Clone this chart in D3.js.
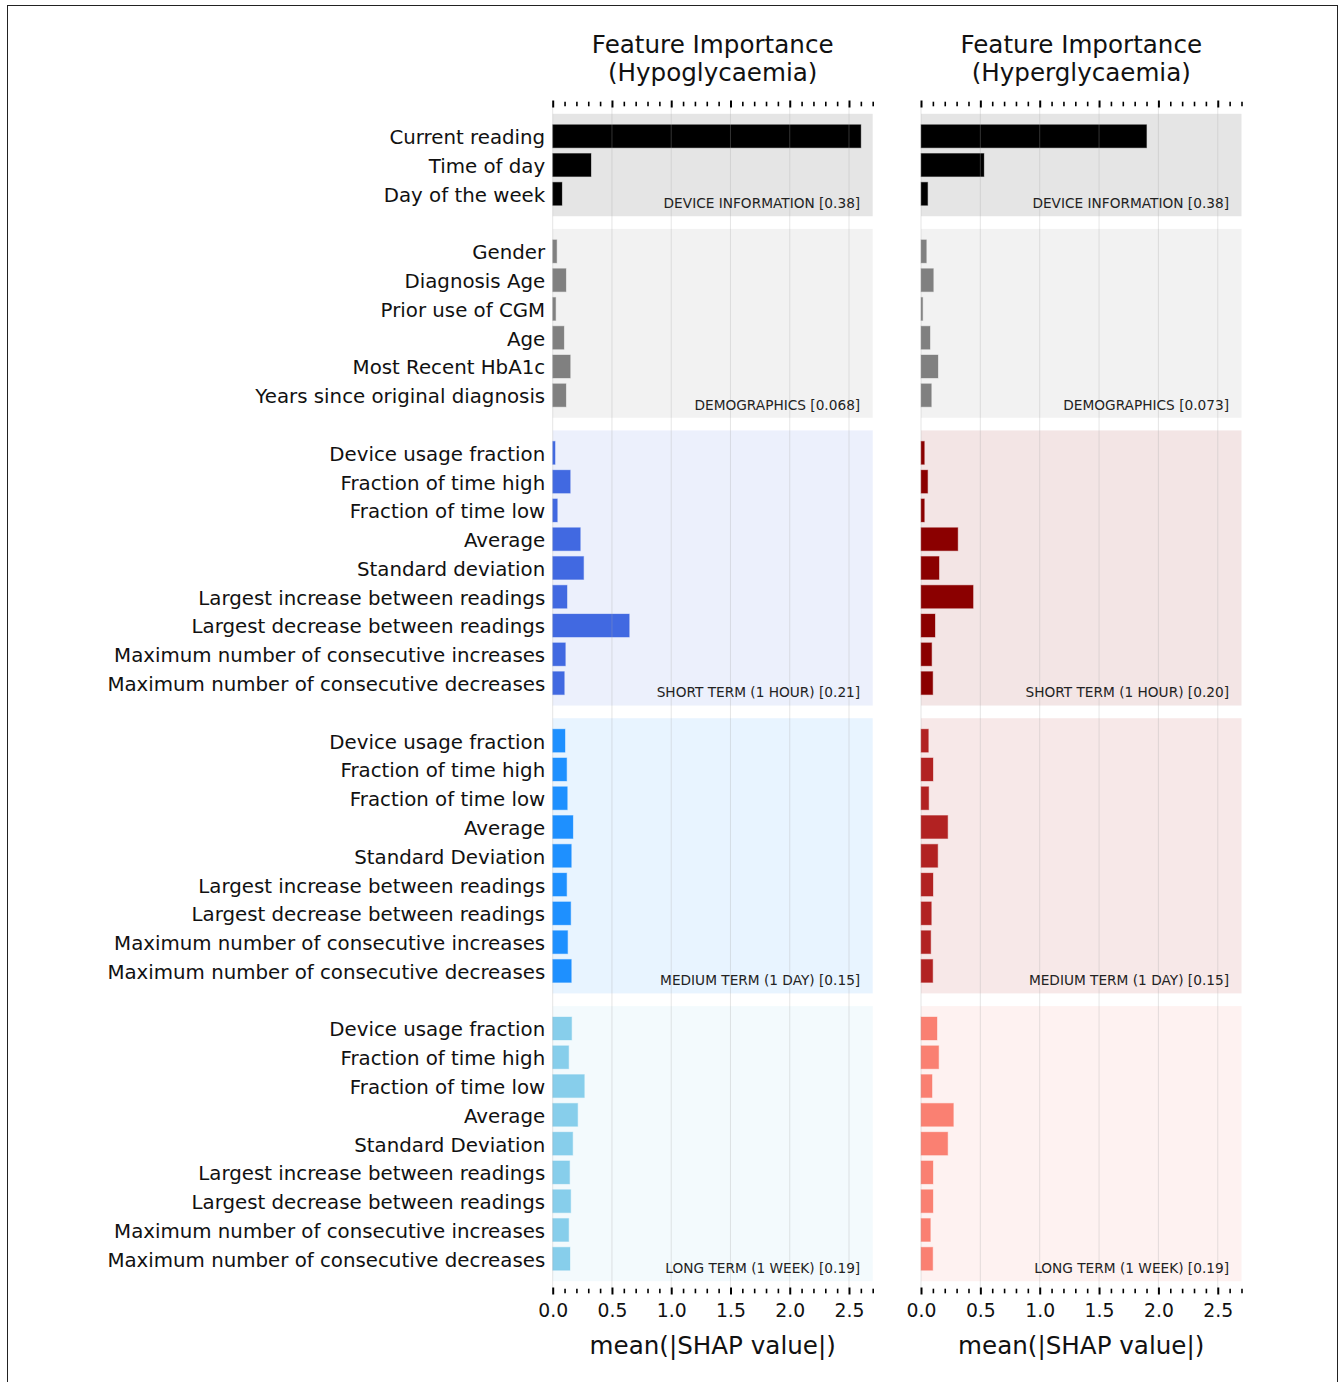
<!DOCTYPE html>
<html><head><meta charset="utf-8">
<script src="https://cdn.jsdelivr.net/npm/d3@7"></script>
<style>body{margin:0;background:#fff} svg{display:block} text{font-family:"DejaVu Sans",sans-serif}</style>
</head><body><svg id="c" width="1344" height="1382"></svg>
<script>
// ---------- data ----------
const deviceFeatures = ["Current reading","Time of day","Day of the week"];
const demoFeatures = ["Gender","Diagnosis Age","Prior use of CGM","Age","Most Recent HbA1c","Years since original diagnosis"];
const shortFeatures = ["Device usage fraction","Fraction of time high","Fraction of time low","Average","Standard deviation","Largest increase between readings","Largest decrease between readings","Maximum number of consecutive increases","Maximum number of consecutive decreases"];
const mediumFeatures = ["Device usage fraction","Fraction of time high","Fraction of time low","Average","Standard Deviation","Largest increase between readings","Largest decrease between readings","Maximum number of consecutive increases","Maximum number of consecutive decreases"];
const longFeatures = ["Device usage fraction","Fraction of time high","Fraction of time low","Average","Standard Deviation","Largest increase between readings","Largest decrease between readings","Maximum number of consecutive increases","Maximum number of consecutive decreases"];

const groupNames = ["DEVICE INFORMATION","DEMOGRAPHICS","SHORT TERM (1 HOUR)","MEDIUM TERM (1 DAY)","LONG TERM (1 WEEK)"];
const hypoScores = ["0.38","0.068","0.21","0.15","0.19"];
const hyperScores = ["0.38","0.073","0.20","0.15","0.19"];

const hypoDevice = [2.60, 0.323, 0.078];
const hypoDemo = [0.034, 0.112, 0.025, 0.095, 0.148, 0.112];
const hypoShort = [0.020, 0.148, 0.039, 0.233, 0.261, 0.121, 0.646, 0.107, 0.098];
const hypoMedium = [0.104, 0.118, 0.123, 0.171, 0.157, 0.118, 0.152, 0.126, 0.157];
const hypoLong = [0.160, 0.135, 0.267, 0.211, 0.169, 0.143, 0.152, 0.135, 0.146];

const hyperDevice = [1.90, 0.53, 0.056];
const hyperDemo = [0.045, 0.104, 0.014, 0.076, 0.143, 0.087];
const hyperShort = [0.028, 0.056, 0.028, 0.310, 0.152, 0.439, 0.118, 0.090, 0.099];
const hyperMedium = [0.062, 0.101, 0.065, 0.225, 0.141, 0.101, 0.087, 0.082, 0.099];
const hyperLong = [0.135, 0.149, 0.093, 0.273, 0.225, 0.101, 0.101, 0.079, 0.099];

const hypoColors = ["#000000","#808080","#4169E1","#1E90FF","#87CEEB"];
const hyperColors = ["#000000","#808080","#8B0000","#B22222","#FA8072"];

const majorTicks = [0, 0.5, 1.0, 1.5, 2.0, 2.5];
const minorTicks = d3.range(0, 28).map(i => i / 10);
const xLabel = "mean(|SHAP value|)";
const titleLine1 = "Feature Importance";

// ---------- layout ----------
const featureGroups = [deviceFeatures, demoFeatures, shortFeatures, mediumFeatures, longFeatures];
const groupStarts = [];
{ let s = 0; featureGroups.forEach(g => { groupStarts.push(s); s += g.length + 1; }); }

const svg = d3.select("#c");
svg.append("rect").attr("x",7.5).attr("y",5.5).attr("width",1330).attr("height",1400)
  .attr("fill","none").attr("stroke","#222").attr("stroke-width",1);

const y = d3.scaleLinear().domain([-1.12, 40.12]).range([104, 1291]);
const rowH = y(1) - y(0);

const panels = [
  {x0:552.7, x1:872.7, vals:[hypoDevice,hypoDemo,hypoShort,hypoMedium,hypoLong], colors:hypoColors, scores:hypoScores, title2:"(Hypoglycaemia)", labels:true},
  {x0:921, x1:1241.5, vals:[hyperDevice,hyperDemo,hyperShort,hyperMedium,hyperLong], colors:hyperColors, scores:hyperScores, title2:"(Hyperglycaemia)", labels:false}
];

panels.forEach(p => {
  const x = d3.scaleLinear().domain([0, 2.7]).range([p.x0, p.x1]);
  const g = svg.append("g");

  // group backgrounds
  featureGroups.forEach((fg, gi) => {
    const s = groupStarts[gi], e = s + fg.length - 1;
    g.append("rect").attr("x", x(0)).attr("width", x(2.7) - x(0))
      .attr("y", y(s - 0.78)).attr("height", y(e + 0.78) - y(s - 0.78))
      .attr("fill", p.colors[gi]).attr("fill-opacity", 0.1);
  });

  // bars
  featureGroups.forEach((fg, gi) => {
    const s = groupStarts[gi];
    g.selectAll(null).data(p.vals[gi]).enter().append("rect")
      .attr("x", x(0)).attr("y", (d,i) => y(s+i) - rowH*0.4)
      .attr("width", d => x(d) - x(0)).attr("height", rowH*0.8)
      .attr("fill", p.colors[gi])
      .attr("stroke", p.colors[gi]).attr("stroke-opacity", 0.35).attr("stroke-width", 1);
  });

  // gridlines
  g.selectAll(null).data(majorTicks).enter().append("line")
    .attr("x1", d => x(d)).attr("x2", d => x(d))
    .attr("y1", y.range()[0]).attr("y2", y.range()[1])
    .attr("stroke", "#a8a8a8").attr("stroke-opacity", 0.3).attr("stroke-width", 1);

  // group labels
  featureGroups.forEach((fg, gi) => {
    const e = groupStarts[gi] + fg.length - 1;
    g.append("text").attr("x", x(2.7) - 12.5).attr("y", y(e) + 14.3)
      .attr("text-anchor","end").attr("font-size", 13.7).attr("fill","#222")
      .text(groupNames[gi] + " [" + p.scores[gi] + "]");
  });

  // feature labels
  if (p.labels) {
    featureGroups.forEach((fg, gi) => {
      const s = groupStarts[gi];
      g.selectAll(null).data(fg).enter().append("text")
        .attr("x", x(0) - 7.5).attr("y", (d,i) => y(s+i) + 1).attr("dy","0.35em")
        .attr("text-anchor","end").attr("font-size", 19.8).attr("fill","#111")
        .text(d => d);
    });
  }

  // axes (inout ticks)
  const drawAxis = (yy, withLabels) => {
    const axMinor = d3.axisBottom(x).tickValues(minorTicks.filter(v => !majorTicks.some(m => Math.abs(m - v) < 1e-9))).tickSize(0).tickFormat("");
    const a1 = g.append("g").attr("transform", `translate(0,${yy})`).call(axMinor);
    a1.select(".domain").remove();
    a1.selectAll(".tick line").attr("y1", -2.3).attr("y2", 2.3).attr("stroke","#000").attr("stroke-width",1.6);
    const axMajor = d3.axisBottom(x).tickValues(majorTicks).tickSize(0).tickFormat(d3.format(".1f"));
    const a2 = g.append("g").attr("transform", `translate(0,${yy})`).call(axMajor);
    a2.select(".domain").remove();
    a2.selectAll(".tick line").attr("y1", -3.5).attr("y2", 3.5).attr("stroke","#000").attr("stroke-width",2);
    if (withLabels) {
      a2.selectAll(".tick text").attr("y", 25.5).attr("dy", 0).attr("font-size", 18.8)
        .attr("font-family","DejaVu Sans").attr("fill","#111");
    } else {
      a2.selectAll(".tick text").remove();
    }
  };
  drawAxis(y.range()[0], false);
  drawAxis(y.range()[1], true);

  // titles
  const cx = (p.x0 + p.x1) / 2;
  g.append("text").attr("x", cx).attr("y", 53).attr("text-anchor","middle").attr("font-size", 24.6).attr("fill","#111").text(titleLine1);
  g.append("text").attr("x", cx).attr("y", 81).attr("text-anchor","middle").attr("font-size", 24.6).attr("fill","#111").text(p.title2);
  g.append("text").attr("x", cx).attr("y", 1354).attr("text-anchor","middle").attr("font-size", 24.6).attr("fill","#111").text(xLabel);
});
</script></body></html>
